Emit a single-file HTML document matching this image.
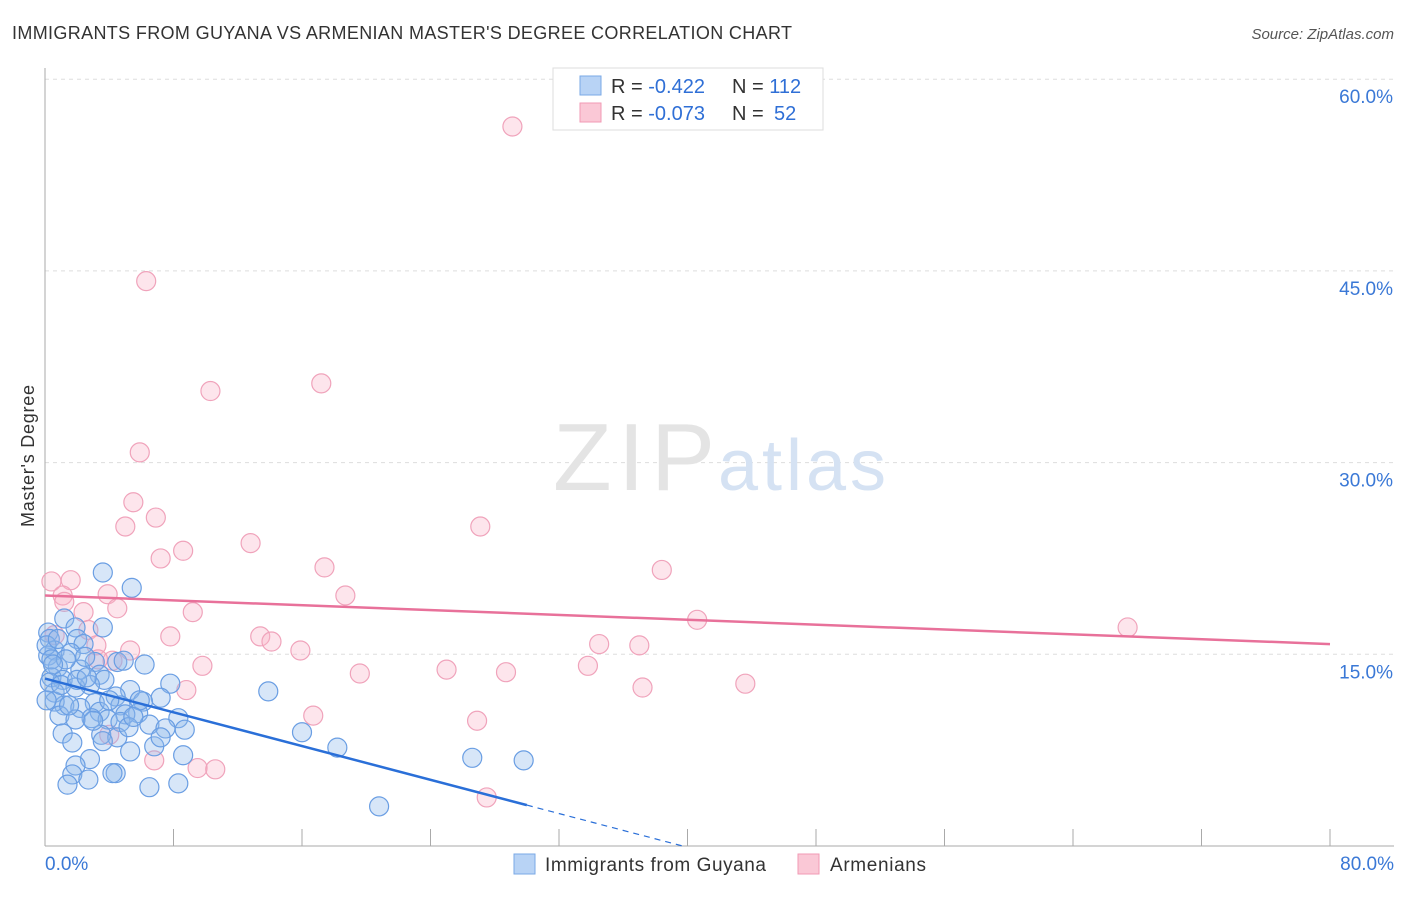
<!DOCTYPE html>
<html><head><meta charset="utf-8"><style>
body{margin:0;background:#fff;font-family:"Liberation Sans",sans-serif;}
svg text{font-family:"Liberation Sans",sans-serif;}
</style></head><body>
<svg id="chart" width="1406" height="892">
<text x="12" y="39" font-size="18" fill="#333" textLength="780">IMMIGRANTS FROM GUYANA VS ARMENIAN MASTER'S DEGREE CORRELATION CHART</text>
<text x="1394" y="39" font-size="15" fill="#555" font-style="italic" text-anchor="end">Source: ZipAtlas.com</text>
<text x="0" y="0" transform="translate(34,456) rotate(-90)" font-size="18" fill="#333" text-anchor="middle" textLength="142">Master's Degree</text>
<g id="grid"></g>
<text x="553" y="490" font-size="96" fill="#e4e4e4" font-family="Liberation Serif" textLength="162">ZIP</text>
<text x="718" y="490" font-size="72" fill="#d5e2f3" textLength="168">atlas</text>
<g id="pts"></g>
<g id="lines"></g>
<g>
<rect x="553" y="68" width="270" height="62" fill="#fff" stroke="#ddd"/>
<rect x="580" y="76" width="21" height="19" fill="#b8d3f5" stroke="#7aa8e6"/>
<rect x="580" y="103" width="21" height="19" fill="#fac8d6" stroke="#f19ab4"/>
<text x="611" y="93" font-size="20" fill="#333">R = <tspan fill="#2f6fd6">-0.422</tspan><tspan x="732">N = </tspan><tspan fill="#2f6fd6">112</tspan></text>
<text x="611" y="120" font-size="20" fill="#333">R = <tspan fill="#2f6fd6">-0.073</tspan><tspan x="732">N = </tspan><tspan x="774" fill="#2f6fd6">52</tspan></text>
</g>
<g>
<rect x="514" y="854" width="21" height="20" fill="#b8d3f5" stroke="#7aa8e6"/>
<text x="545" y="871" font-size="19" fill="#333" textLength="221">Immigrants from Guyana</text>
<rect x="798" y="854" width="21" height="20" fill="#fac8d6" stroke="#f19ab4"/>
<text x="830" y="871" font-size="19" fill="#333" textLength="96">Armenians</text>
</g>
</svg>
<script>
const yTicks=[15,30,45,60];
const xTickLabels=["0.0%","80.0%"];
const blueX=[3.6,5.4,1.2,3.6,1.9,0.2,2.0,0.3,2.4,0.6,1.6,0.2,3.1,4.5,4.9,6.2,0.8,2.2,3.4,0.4,1.1,3.7,7.8,2.8,1.9,5.3,13.9,0.6,4.4,7.2,6.1,1.2,3.1,0.6,4.7,2.2,3.4,5.8,5.0,8.3,0.9,2.9,3.9,1.9,6.5,4.7,7.5,8.7,1.1,3.5,16.0,4.5,5.2,1.7,6.8,18.2,3.6,5.3,8.6,26.6,29.8,2.8,1.9,4.4,1.7,2.7,1.4,6.5,8.3,20.8,0.1,0.1,0.4,0.8,1.3,2.5,4.0,5.9,7.2,4.2,0.3,1.0,2.0,3.0,0.5,1.5,5.5,2.6];
const blueY=[21.4,20.2,17.8,17.1,17.1,16.7,16.2,16.2,15.8,15.3,15.1,14.9,14.4,14.4,14.5,14.2,14.0,13.8,13.4,13.2,13.0,13.0,12.7,12.6,12.4,12.2,12.1,12.0,11.7,11.6,11.3,11.0,11.2,11.3,11.0,10.8,10.5,10.4,10.3,10.0,10.2,10.0,9.9,9.9,9.5,9.7,9.2,9.1,8.8,8.7,8.9,8.5,9.3,8.1,7.8,7.7,8.2,7.4,7.1,6.9,6.7,6.8,6.3,5.7,5.6,5.2,4.8,4.6,4.9,3.1,11.4,15.7,14.6,16.2,14.6,14.8,11.4,11.4,8.5,5.7,12.8,12.6,13.0,9.8,14.2,11.0,10.1,13.2];
const pinkX=[29.1,6.3,10.3,17.2,5.9,5.5,5.0,6.9,27.1,12.8,8.6,7.2,38.4,17.4,0.4,1.6,1.1,3.9,18.7,1.2,2.4,4.5,9.2,40.6,67.4,2.7,7.8,13.4,14.1,34.5,37.0,3.2,5.3,15.9,4.2,9.8,33.8,25.0,19.6,28.7,43.6,37.2,8.8,16.7,26.9,6.8,9.5,10.6,27.5,4.0,3.3,0.6];
const pinkY=[56.3,44.2,35.6,36.2,30.8,26.9,25.0,25.7,25.0,23.7,23.1,22.5,21.6,21.8,20.7,20.8,19.6,19.7,19.6,19.1,18.3,18.6,18.3,17.7,17.1,16.9,16.4,16.4,16.0,15.8,15.7,15.7,15.3,15.3,14.5,14.1,14.1,13.8,13.5,13.6,12.7,12.4,12.2,10.2,9.8,6.7,6.1,6.0,3.8,8.7,14.6,16.5];
const blueTrend=[13.1,-0.33];
const pinkTrend=[19.6,-0.0475];
const NS="http://www.w3.org/2000/svg";
const X0=45,X1=1330,Y0=846,PX=(X1-X0)/80,PY=12.78;
const sx=v=>X0+v*PX, sy=v=>Y0-v*PY;
function mk(tag,attrs,parent){const e=document.createElementNS(NS,tag);for(const k in attrs)e.setAttribute(k,attrs[k]);parent.appendChild(e);return e;}
const grid=document.getElementById('grid');
yTicks.forEach(t=>{
 const l=mk('line',{x1:X0,x2:1394,y1:sy(t),y2:sy(t),stroke:'#ddd','stroke-dasharray':'4 4'},grid);
 
 
 const tx=mk('text',{x:1393,y:sy(t)+24,'font-size':19,fill:'#3a78d6','text-anchor':'end'},grid);
 tx.textContent=t.toFixed(1)+'%';
 
 
});
const ax=mk('line',{x1:X0,x2:X0,y1:68,y2:Y0,stroke:'#aaa'},grid);


const bx=mk('line',{x1:X0,x2:1394,y1:Y0,y2:Y0,stroke:'#aaa'},grid);


for(let i=0;i<=10;i++){
 const t=mk('line',{x1:sx(i*8),x2:sx(i*8),y1:Y0,y2:Y0-17,stroke:'#aaa'},grid);
 
 
}
[[0,'start',45],[1,'end',1394]].forEach(([i,a,x])=>{
 const t=mk('text',{x:x,y:870,'font-size':19,fill:'#3a78d6','text-anchor':a},grid);
 t.textContent=xTickLabels[i];
 
 
});
const pts=document.getElementById('pts');
pinkX.forEach((v,i)=>{
 const c=mk('circle',{cx:sx(v),cy:sy(pinkY[i]),r:9.5,fill:'rgba(248,180,200,0.35)',stroke:'#f0a3bb','stroke-width':1.2},pts);
 
 
});
blueX.forEach((v,i)=>{
 const c=mk('circle',{cx:sx(v),cy:sy(blueY[i]),r:9.5,fill:'rgba(140,182,236,0.35)',stroke:'#6a9ee3','stroke-width':1.2},pts);
 
 
});
const lines=document.getElementById('lines');
const bEnd=30, bZero=-blueTrend[0]/blueTrend[1];
const bl=mk('line',{x1:sx(0),y1:sy(blueTrend[0]),x2:sx(bEnd),y2:sy(blueTrend[0]+blueTrend[1]*bEnd),stroke:'#2a6fd8','stroke-width':2.5},lines);


const bd=mk('line',{x1:sx(bEnd),y1:sy(blueTrend[0]+blueTrend[1]*bEnd),x2:sx(bZero),y2:sy(0),stroke:'#2a6fd8','stroke-width':1.2,'stroke-dasharray':'6 5'},lines);


const pl=mk('line',{x1:sx(0),y1:sy(pinkTrend[0]),x2:sx(80),y2:sy(pinkTrend[0]+pinkTrend[1]*80),stroke:'#e8719a','stroke-width':2.5},lines);


</script>
</body></html>
